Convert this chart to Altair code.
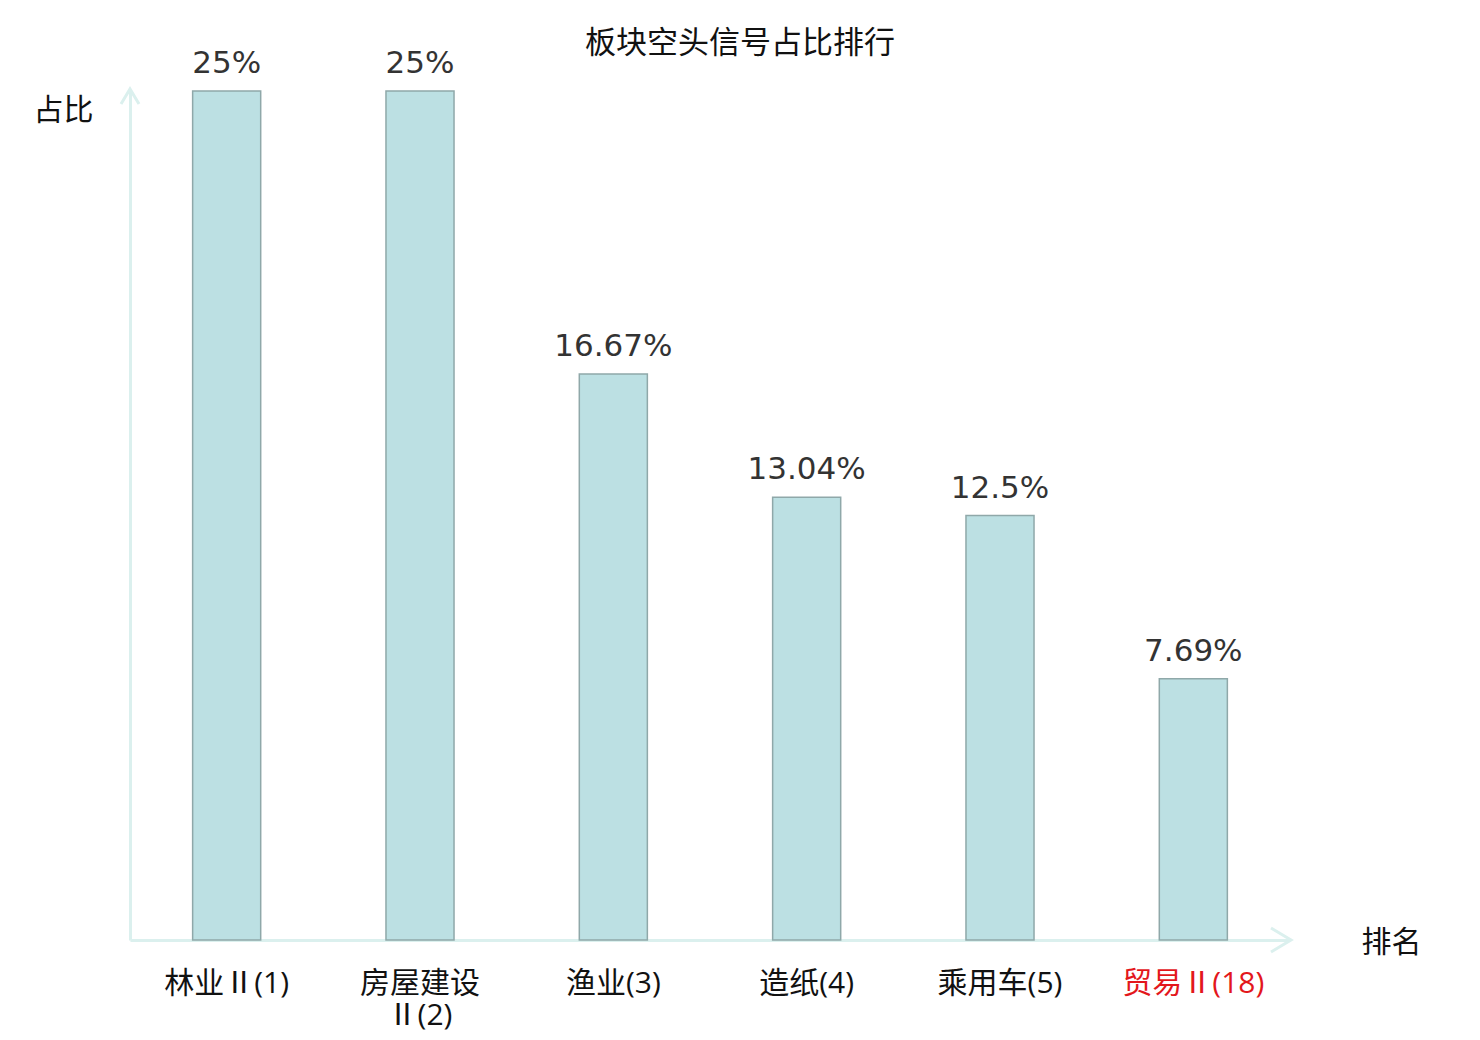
import altair as alt
import pandas as pd

categories = ["林业Ⅱ(1)", "房屋建设\nⅡ(2)", "渔业(3)", "造纸(4)", "乘用车(5)", "贸易Ⅱ(18)"]
values = [25, 25, 16.67, 13.04, 12.5, 7.69]
highlight = "贸易Ⅱ(18)"

df = pd.DataFrame({"cat": categories, "value": values})

AXIS_COLOR = "#dbf0ee"
W, H = 1160, 849

base = alt.Chart(df)

x_enc = alt.X(
    "cat:N", sort=None,
    scale=alt.Scale(paddingInner=0.648, paddingOuter=0.324),
    axis=alt.Axis(
        title="排名", titleAngle=0, titleX=1261, titleY=2, titleAlign="center",
        titleBaseline="middle", titleFontSize=30, titleFontWeight="normal",
        titleFont="Noto Sans CJK SC", titleColor="#111111",
        labelAngle=0, labelFont="Open Sans, Noto Sans CJK SC", labelFontSize=30,
        labelFontWeight="normal",
        labelPadding=28, labelLineHeight=32,
        labelExpr="split(datum.value, '\\n')",
        labelColor={"condition": {"test": f"datum.value == '{highlight}'", "value": "#e3171c"}, "value": "#111111"},
        ticks=False, domainColor=AXIS_COLOR, domainWidth=3,
    ),
)

y_enc = alt.Y(
    "value:Q",
    scale=alt.Scale(domain=[0, 25], nice=False, zero=True),
    axis=alt.Axis(
        title="占比", titleAngle=0, titleX=-67, titleY=19, titleAlign="center",
        titleBaseline="middle", titleFontSize=30, titleFontWeight="normal",
        titleFont="Noto Sans CJK SC", titleColor="#111111",
        labels=False, ticks=False, grid=False,
        domainColor=AXIS_COLOR, domainWidth=3,
    ),
)

bars = base.mark_bar(fill="#bce0e3", stroke="#8fa8a9", strokeWidth=1.5).encode(x=x_enc, y=y_enc)

text = base.transform_calculate(
    label="format(datum.value, '.2~f') + '%'"
).mark_text(
    font="DejaVu Sans", fontSize=31, color="#333333", baseline="alphabetic", dy=-18
).encode(x=alt.X("cat:N", sort=None), y="value:Q", text="label:N")

y_arrow = alt.Chart(pd.DataFrame({"a": [0]})).mark_point(
    shape="M-0.6,1L0,0L0.6,1", filled=False, stroke=AXIS_COLOR, strokeWidth=3, size=900, opacity=1
).encode(x=alt.value(0), y=alt.value(-2))

x_arrow = alt.Chart(pd.DataFrame({"a": [0]})).mark_point(
    shape="M-1,-0.6L0,0L-1,0.6", filled=False, stroke=AXIS_COLOR, strokeWidth=3, size=1600, opacity=1
).encode(x=alt.value(W + 1), y=alt.value(H))

chart = alt.layer(bars, text, y_arrow, x_arrow).properties(
    width=W, height=H,
    title=alt.TitleParams(
        "板块空头信号占比排行", font="Noto Sans CJK SC", fontSize=31, fontWeight="normal",
        color="#111111", anchor="middle", dx=30, offset=-12,
    ),
    autosize=alt.AutoSizeParams(type="none"),
    padding={"left": 122, "top": 83, "right": 170, "bottom": 95},
    background="white",
).configure_view(stroke=None)

chart.save("out.html", embed_options={"renderer": "svg", "actions": False})
